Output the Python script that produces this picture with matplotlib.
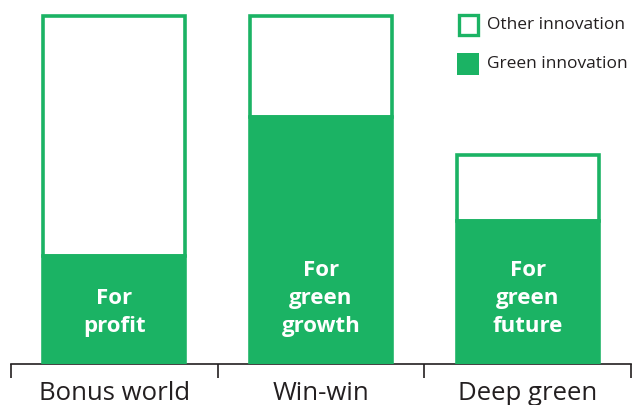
import matplotlib
matplotlib.use("Agg")
import matplotlib.pyplot as plt
from matplotlib.patches import Rectangle

categories = ["Bonus world", "Win-win", "Deep green"]
green_innovation = [31, 71, 41]
other_innovation = [69, 29, 19]
bar_labels = ["For\nprofit", "For\ngreen\ngrowth", "For\ngreen\nfuture"]
legend_labels = ["Other innovation", "Green innovation"]

GREEN = "#1BB364"
DARK = "#231F20"
plt.rcParams['font.family'] = ['Open Sans', 'DejaVu Sans']

W, H = 633, 405
fig = plt.figure(figsize=(W / 100, H / 100), dpi=100)
ax = fig.add_axes([11 / W, (H - 364) / H, 620 / W, 364 / H])

x = list(range(len(categories)))
width = 0.686
lw = 2.6
ax.bar(x, other_innovation, width, bottom=green_innovation, color="white",
       edgecolor=GREEN, linewidth=lw, zorder=2)
ax.bar(x, green_innovation, width, color=GREEN, edgecolor=GREEN,
       linewidth=lw, zorder=3)

for xi, lab in zip(x, bar_labels):
    ax.text(xi, 7.8, lab, ha="center", va="bottom", color="white",
            fontsize=16, fontweight="bold", linespacing=1.42, zorder=4)

ax.set_xlim(-0.5, 2.5)
ax.set_ylim(0, 104.6)
for s in ["top", "left", "right"]:
    ax.spines[s].set_visible(False)
ax.spines["bottom"].set_color(DARK)
ax.spines["bottom"].set_linewidth(1.2)
ax.set_yticks([])
ax.set_xticks(x)
ax.set_xticklabels(categories, fontsize=18.5, color=DARK)
ax.tick_params(axis="x", which="major", length=0, pad=12)
ax.set_xticks([-0.5, 0.5, 1.5, 2.5], minor=True)
ax.tick_params(axis="x", which="minor", length=10, width=1.2, color=DARK)

# legend
def fx(px):
    return px / W

def fy(py):
    return 1 - py / H

fig.patches.append(Rectangle((fx(458.5), fy(34.5)), 19 / W, 19 / H,
                             transform=fig.transFigure, facecolor="white",
                             edgecolor=GREEN, linewidth=2.4))
fig.patches.append(Rectangle((fx(457), fy(75)), 22 / W, 22 / H,
                             transform=fig.transFigure, facecolor=GREEN,
                             edgecolor="none"))
fig.text(fx(487), fy(25), legend_labels[0], fontsize=12.5, color=DARK,
         va="center", ha="left")
fig.text(fx(487), fy(64), legend_labels[1], fontsize=12.5, color=DARK,
         va="center", ha="left")

fig.savefig("out.png", dpi=100)
